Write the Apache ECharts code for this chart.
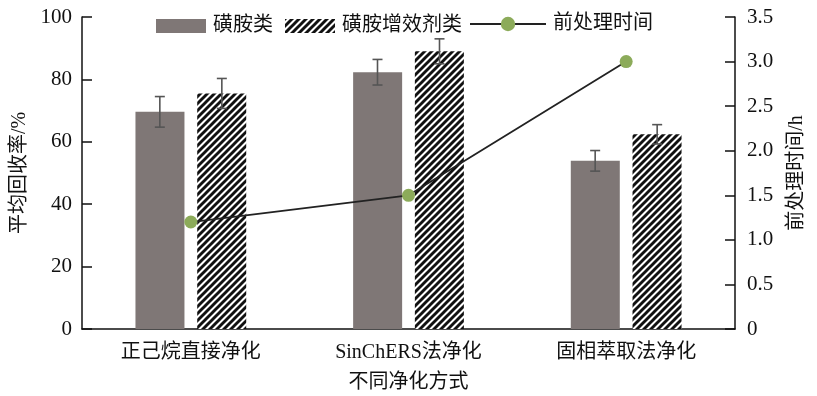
<!DOCTYPE html>
<html>
<head>
<meta charset="utf-8">
<script src="https://cdn.jsdelivr.net/npm/echarts@6/dist/echarts.min.js"></script>
<style>
html,body{margin:0;padding:0;background:#fff;}
#chart{width:817px;height:396px;}
</style>
</head>
<body>
<div id="chart"></div>
<script>
var categories = ['正己烷直接净化', 'SinChERS法净化', '固相萃取法净化'];
var sulfonamides = [69.6, 82.3, 53.9];
var sulfonamidesErr = [4.9, 4.1, 3.3];
var synergists = [75.5, 89.0, 62.4];
var synergistsErr = [4.8, 4.0, 3.1];
var pretreatTime = [1.2, 1.5, 3.0];
var leftTicks = [0, 20, 40, 60, 80, 100];
var rightTicks = ['0', '0.5', '1.0', '1.5', '2.0', '2.5', '3.0', '3.5'];

var FONT = '"Liberation Serif", "Noto Sans CJK SC", serif';

function makeHatch() {
  var s = 7;
  var c = document.createElement('canvas');
  c.width = s; c.height = s;
  var ctx = c.getContext('2d');
  ctx.fillStyle = '#ffffff';
  ctx.fillRect(0, 0, s, s);
  ctx.strokeStyle = '#111111';
  ctx.lineWidth = 2.9;
  ctx.beginPath();
  ctx.moveTo(-2, 2); ctx.lineTo(2, -2);
  ctx.moveTo(-1, s + 1); ctx.lineTo(s + 1, -1);
  ctx.moveTo(s - 2, s + 2); ctx.lineTo(s + 2, s - 2);
  ctx.stroke();
  return c;
}
var hatch = makeHatch();

function errData(vals, errs) {
  return vals.map(function (v, i) { return [i, v, errs[i]]; });
}
function errRender(offset) {
  return function (params, api) {
    var ci = api.value(0), v = api.value(1), e = api.value(2);
    var top = api.coord([ci, v + e]);
    var bot = api.coord([ci, v - e]);
    var x = top[0] + offset;
    var w = 5;
    var st = { stroke: '#555555', lineWidth: 1.6 };
    return {
      type: 'group',
      children: [
        { type: 'line', shape: { x1: x, y1: top[1], x2: x, y2: bot[1] }, style: st },
        { type: 'line', shape: { x1: x - w, y1: top[1], x2: x + w, y2: top[1] }, style: st },
        { type: 'line', shape: { x1: x - w, y1: bot[1], x2: x + w, y2: bot[1] }, style: st }
      ]
    };
  };
}

var legendText = { fontFamily: FONT, fontSize: 20, color: '#111', padding: [0, 0, 0, 2] };

var chart = echarts.init(document.getElementById('chart'), null, { renderer: 'canvas' });
chart.setOption({
  animation: false,
  backgroundColor: '#ffffff',
  textStyle: { fontFamily: FONT, color: '#111' },
  legend: [
    {
      data: [{ name: '磺胺类', icon: 'rect' }, { name: '磺胺增效剂类', icon: 'rect' }],
      left: 151,
      top: 11,
      itemWidth: 50,
      itemHeight: 14,
      itemGap: 12,
      textStyle: legendText
    },
    {
      data: ['前处理时间'],
      left: 464,
      top: 9,
      itemWidth: 76,
      itemHeight: 18,
      textStyle: legendText
    }
  ],
  grid: { left: 82, right: 82, top: 17, bottom: 67, outerBoundsMode: 'none' },
  xAxis: {
    type: 'category',
    data: categories,
    name: '不同净化方式',
    nameLocation: 'middle',
    nameGap: 44,
    nameTextStyle: { fontFamily: FONT, fontSize: 20, color: '#111' },
    axisLine: { lineStyle: { color: '#111', width: 1.5 } },
    axisTick: { show: false },
    axisLabel: { fontFamily: FONT, fontSize: 20, color: '#111', margin: 14 }
  },
  yAxis: [
    {
      type: 'value',
      min: 0, max: 100, interval: 20,
      name: '平均回收率/%',
      nameLocation: 'middle',
      nameGap: 44,
      nameTextStyle: { fontFamily: FONT, fontSize: 20, color: '#111' },
      axisLine: { show: true, lineStyle: { color: '#111', width: 1.5 } },
      axisTick: { show: true, inside: true, length: 10, lineStyle: { color: '#111', width: 1.5 } },
      splitLine: { show: false },
      axisLabel: {
        fontFamily: FONT, fontSize: 21, color: '#111', margin: 10,
        formatter: function (v) { return leftTicks.indexOf(v) >= 0 ? String(v) : ''; }
      }
    },
    {
      type: 'value',
      min: 0, max: 3.5, interval: 0.5,
      name: '前处理时间/h',
      nameLocation: 'middle',
      nameGap: 52,
      nameRotate: 90,
      nameTextStyle: { fontFamily: FONT, fontSize: 20, color: '#111' },
      axisLine: { show: true, lineStyle: { color: '#111', width: 1.5 } },
      axisTick: { show: true, inside: true, length: 10, lineStyle: { color: '#111', width: 1.5 } },
      splitLine: { show: false },
      axisLabel: {
        fontFamily: FONT, fontSize: 21, color: '#111', margin: 12,
        formatter: function (v) { return rightTicks[Math.round(v / 0.5)]; }
      }
    }
  ],
  series: [
    {
      name: '磺胺类',
      type: 'bar',
      data: sulfonamides,
      barWidth: 49,
      barGap: '26%',
      itemStyle: { color: '#7f7776' }
    },
    {
      name: '磺胺增效剂类',
      type: 'bar',
      data: synergists,
      barWidth: 49,
      itemStyle: { color: { image: hatch, repeat: 'repeat' } }
    },
    {
      type: 'custom',
      renderItem: errRender(-31),
      data: errData(sulfonamides, sulfonamidesErr),
      z: 3
    },
    {
      type: 'custom',
      renderItem: errRender(31),
      data: errData(synergists, synergistsErr),
      z: 3
    },
    {
      name: '前处理时间',
      type: 'line',
      yAxisIndex: 1,
      data: pretreatTime,
      symbol: 'circle',
      symbolSize: 13,
      lineStyle: { color: '#222', width: 1.8 },
      itemStyle: { color: '#8cab5a' },
      z: 5
    }
  ]
});
</script>
</body>
</html>
